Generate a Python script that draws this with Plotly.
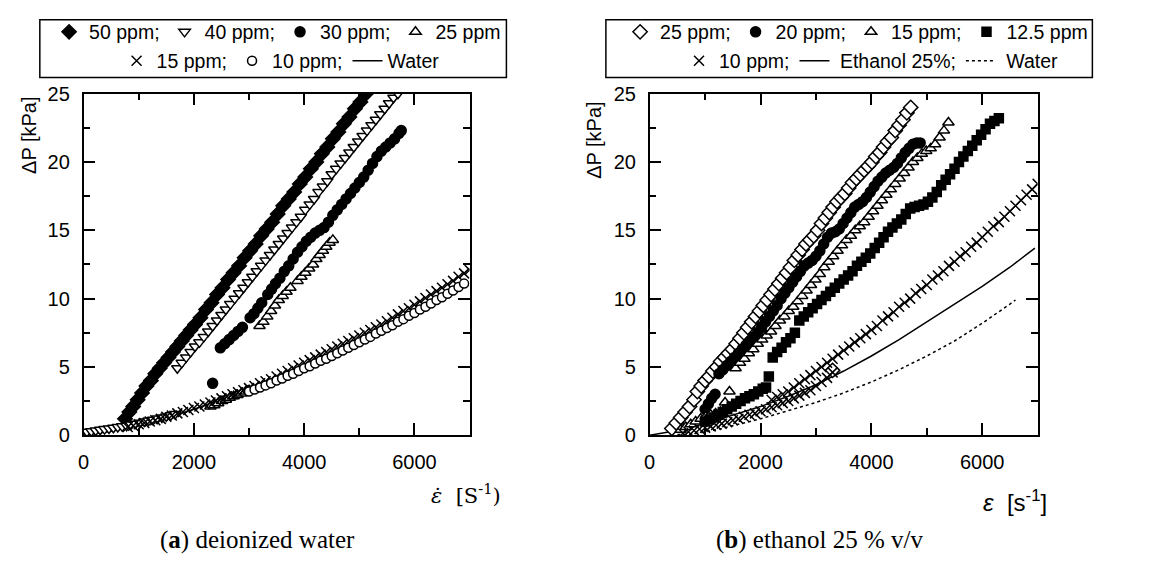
import plotly.graph_objects as go

# ---- data: (strain rate [1/s], dP [kPa]) ----
# (a) deionized water
dw_50ppm = [(750, 1.2), (830, 1.7), (900, 2.1), (980, 2.6), (1060, 3.1), (1140, 3.6), (1220, 4.0), (1300, 4.5),
            (1380, 4.9), (1460, 5.3), (1540, 5.7), (1620, 6.1), (1700, 6.5), (1780, 6.9), (1860, 7.3), (1940, 7.7),
            (2020, 8.1), (2120, 8.6), (2220, 9.2), (2320, 9.7), (2420, 10.3), (2520, 10.8), (2620, 11.4), (2720, 11.9),
            (2820, 12.4), (2920, 13.0), (3020, 13.5), (3120, 14.0), (3220, 14.6), (3320, 15.1), (3420, 15.6), (3520, 16.2),
            (3620, 16.8), (3720, 17.3), (3820, 17.8), (3920, 18.4), (4020, 18.9), (4120, 19.5), (4220, 20.0), (4320, 20.6),
            (4420, 21.1), (4520, 21.7), (4620, 22.2), (4720, 22.8), (4820, 23.3), (4920, 23.9), (5020, 24.4), (5120, 25.0)]
dw_40ppm = [(60, 0.25), (140, 0.3), (220, 0.35), (300, 0.4), (380, 0.45), (460, 0.5), (540, 0.55), (620, 0.6),
            (700, 0.65), (780, 0.7), (860, 0.78), (940, 0.85), (1020, 0.92), (1100, 1.0), (1180, 1.07), (1260, 1.14),
            (1340, 1.22), (1420, 1.3), (1500, 1.38), (1580, 1.46), (1660, 1.55),
            (1700, 4.9), (1780, 5.3), (1860, 5.7), (1940, 6.1), (2020, 6.5), (2100, 6.8), (2180, 7.2), (2260, 7.6),
            (2340, 8.0), (2420, 8.4), (2500, 8.8), (2580, 9.2), (2660, 9.6), (2740, 10.0), (2820, 10.4), (2900, 10.8),
            (2980, 11.2), (3060, 11.6), (3140, 12.0), (3220, 12.4), (3300, 12.8), (3380, 13.2), (3460, 13.6), (3540, 14.0),
            (3620, 14.4), (3700, 14.8), (3780, 15.2), (3860, 15.6), (3940, 16.0), (4020, 16.5), (4100, 16.9), (4180, 17.3),
            (4260, 17.8), (4340, 18.2), (4420, 18.6), (4500, 19.1), (4580, 19.5), (4660, 19.9), (4740, 20.3), (4820, 20.7),
            (4900, 21.1), (4980, 21.5), (5060, 21.9), (5140, 22.3), (5220, 22.7), (5300, 23.1), (5380, 23.5), (5460, 23.9),
            (5540, 24.3), (5620, 24.7), (5700, 25.0)]
dw_30ppm = [(2340, 3.8), (2480, 6.4), (2560, 6.7), (2640, 7.0), (2720, 7.3), (2800, 7.6), (2880, 7.9), (3020, 8.6),
            (3090, 8.9), (3160, 9.3), (3230, 9.7), (3340, 10.3), (3410, 10.7), (3480, 11.1), (3560, 11.5), (3640, 12.0),
            (3720, 12.4), (3800, 12.9), (3880, 13.4), (3960, 13.8), (4040, 14.2), (4120, 14.5), (4200, 14.8), (4280, 15.0),
            (4360, 15.2), (4440, 15.6), (4520, 16.1), (4600, 16.5), (4680, 16.9), (4760, 17.3), (4840, 17.7), (4920, 18.1),
            (5000, 18.5), (5080, 18.9), (5160, 19.4), (5240, 19.9), (5320, 20.4), (5400, 20.8), (5480, 21.1), (5560, 21.4),
            (5640, 21.7), (5720, 22.1), (5760, 22.3)]
dw_25ppm = [(2300, 2.1), (2370, 2.2), (2440, 2.35), (2510, 2.5), (2580, 2.6), (2650, 2.75), (2720, 2.85), (2790, 2.95),
            (2860, 3.05), (2940, 3.2), (3000, 3.3),
            (3190, 8.0), (3260, 8.3), (3330, 8.7), (3400, 9.1), (3470, 9.5), (3540, 9.9), (3610, 10.2), (3680, 10.5),
            (3750, 10.8), (3880, 11.3), (3950, 11.6), (4020, 11.9), (4090, 12.2), (4160, 12.5), (4220, 12.9), (4280, 13.2),
            (4340, 13.5), (4400, 13.8), (4460, 14.1), (4520, 14.3)]
dw_15ppm = [(800, 0.6), (900, 0.7), (1000, 0.8), (1100, 0.9), (1200, 1.0), (1300, 1.1), (1400, 1.2), (1500, 1.35),
            (1600, 1.45), (1700, 1.6), (1800, 1.7), (1900, 1.85), (2000, 2.0), (2100, 2.1), (2200, 2.25), (2300, 2.4),
            (2400, 2.55), (2500, 2.7), (2600, 2.85), (2700, 3.0), (2800, 3.15), (2900, 3.3), (3000, 3.45), (3100, 3.6),
            (3200, 3.8), (3300, 3.95), (3400, 4.1), (3500, 4.3), (3600, 4.5), (3700, 4.7), (3800, 4.9), (3900, 5.1),
            (4000, 5.3), (4100, 5.5), (4200, 5.7), (4300, 5.9), (4400, 6.1), (4500, 6.3), (4600, 6.5), (4700, 6.7),
            (4800, 6.9), (4900, 7.1), (5000, 7.3), (5100, 7.5), (5200, 7.7), (5300, 7.9), (5400, 8.1), (5500, 8.35),
            (5600, 8.6), (5700, 8.85), (5800, 9.1), (5900, 9.3), (6000, 9.55), (6100, 9.8), (6200, 10.05), (6300, 10.3),
            (6400, 10.55), (6500, 10.8), (6600, 11.05), (6700, 11.3), (6800, 11.6), (6900, 11.85), (7000, 12.1)]
dw_10ppm = [(3000, 3.2), (3100, 3.35), (3200, 3.5), (3300, 3.65), (3400, 3.8), (3500, 4.0), (3600, 4.15), (3700, 4.35),
            (3800, 4.5), (3900, 4.7), (4000, 4.9), (4100, 5.05), (4200, 5.25), (4300, 5.45), (4400, 5.6), (4500, 5.8),
            (4600, 6.0), (4700, 6.2), (4800, 6.4), (4900, 6.6), (5000, 6.8), (5100, 7.0), (5200, 7.2), (5300, 7.45),
            (5400, 7.65), (5500, 7.85), (5600, 8.05), (5700, 8.3), (5800, 8.5), (5900, 8.75), (6000, 8.95), (6100, 9.2),
            (6200, 9.4), (6300, 9.65), (6400, 9.9), (6500, 10.1), (6600, 10.35), (6700, 10.6), (6800, 10.85), (6900, 11.1)]
dw_water = [(0, 0.0), (500, 0.3), (1000, 0.75), (1500, 1.25), (2000, 1.9), (2500, 2.6), (3000, 3.2), (3500, 3.95),
            (4000, 4.85), (4500, 5.75), (5000, 6.75), (5500, 7.8), (6000, 8.9), (6500, 10.05), (6900, 11.0)]

# (b) ethanol 25 % v/v
et_25ppm = [(400, 0.5), (480, 0.9), (560, 1.3), (640, 1.7), (720, 2.1), (800, 2.6), (860, 3.2), (930, 3.6),
            (1000, 4.0), (1070, 4.3), (1140, 4.7), (1210, 5.0), (1280, 5.4), (1350, 5.7), (1420, 6.0), (1490, 6.3),
            (1560, 6.7), (1630, 7.1), (1700, 7.5), (1770, 7.9), (1840, 8.3), (1910, 8.7), (1980, 9.1), (2050, 9.5),
            (2120, 9.9), (2190, 10.3), (2260, 10.7), (2330, 11.1), (2400, 11.5), (2470, 11.9), (2540, 12.3), (2610, 12.8),
            (2680, 13.2), (2750, 13.6), (2820, 14.0), (2890, 14.3), (2960, 14.6), (3030, 15.0), (3100, 15.5), (3170, 15.9),
            (3240, 16.3), (3310, 16.7), (3380, 17.1), (3450, 17.4), (3520, 17.7), (3590, 18.1), (3660, 18.5), (3730, 18.8),
            (3800, 19.1), (3870, 19.4), (3940, 19.7), (4010, 20.0), (4080, 20.4), (4150, 20.7), (4220, 21.1), (4290, 21.5),
            (4360, 21.8), (4430, 22.3), (4500, 22.7), (4570, 23.1), (4640, 23.6), (4710, 24.0), (3300, 4.75)]
et_20ppm = [(1000, 1.9), (1060, 2.3), (1120, 2.7), (1180, 3.0),
            (1250, 4.5), (1320, 4.8), (1390, 5.1), (1460, 5.4), (1530, 5.7), (1600, 6.0), (1670, 6.3), (1740, 6.6),
            (1810, 6.9), (1880, 7.2), (1950, 7.5), (2020, 7.9), (2090, 8.3), (2160, 8.7), (2230, 9.1), (2300, 9.5),
            (2370, 10.0), (2440, 10.4), (2510, 10.8), (2580, 11.2), (2650, 11.6), (2720, 12.0), (2790, 12.4), (2860, 12.6),
            (2930, 12.8), (3000, 13.1), (3070, 13.5), (3140, 14.0), (3210, 14.5), (3280, 14.8), (3350, 14.9), (3420, 15.1),
            (3490, 15.5), (3560, 15.9), (3630, 16.3), (3700, 16.7), (3770, 16.9), (3840, 17.1), (3910, 17.4), (3980, 17.8),
            (4050, 18.2), (4120, 18.6), (4190, 18.9), (4260, 19.2), (4330, 19.4), (4400, 19.6), (4470, 19.9), (4540, 20.3),
            (4610, 20.7), (4680, 21.0), (4750, 21.3), (4820, 21.4), (4880, 21.4)]
et_15ppm = [(560, 0.4), (650, 0.6), (740, 0.8), (830, 1.0), (920, 1.2), (1010, 1.35), (1100, 1.5), (1190, 1.6),
            (1280, 1.7), (1360, 2.4), (1440, 3.2),
            (1550, 4.9), (1630, 5.3), (1710, 5.6), (1790, 6.0), (1870, 6.3), (1950, 6.7), (2030, 7.0), (2110, 7.3),
            (2190, 7.6), (2270, 8.0), (2350, 8.4), (2430, 8.7), (2510, 9.1), (2590, 9.4), (2670, 9.8), (2750, 10.2),
            (2830, 10.6), (2910, 11.0), (2990, 11.4), (3070, 11.8), (3150, 12.3), (3230, 12.7), (3310, 13.1), (3390, 13.5),
            (3470, 13.9), (3550, 14.3), (3630, 14.6), (3710, 15.0), (3790, 15.3), (3870, 15.6), (3950, 16.0), (4030, 16.4),
            (4110, 16.8), (4190, 17.2), (4270, 17.6), (4350, 18.0), (4430, 18.4), (4510, 18.8), (4590, 19.2), (4670, 19.6),
            (4750, 20.0), (4830, 20.3), (4910, 20.6), (4990, 20.8), (5070, 21.0), (5150, 21.3), (5230, 21.8), (5310, 22.3),
            (5390, 22.9)]
et_12_5ppm = [(1000, 1.0), (1080, 1.15), (1160, 1.3), (1240, 1.5), (1320, 1.7), (1400, 1.9), (1480, 2.1), (1560, 2.3),
              (1640, 2.5), (1720, 2.7), (1800, 2.85), (1880, 3.0), (1960, 3.2), (2040, 3.4), (2100, 3.5), (2150, 4.3),
              (2220, 5.7), (2300, 6.1), (2380, 6.4), (2460, 6.8), (2540, 7.1), (2620, 7.5), (2700, 8.4), (2780, 8.7),
              (2860, 9.0), (2940, 9.3), (3020, 9.6), (3100, 9.9), (3180, 10.2), (3260, 10.5), (3340, 10.8), (3420, 11.1),
              (3500, 11.4), (3580, 11.7), (3660, 12.0), (3740, 12.4), (3820, 12.7), (3900, 13.0), (3980, 13.3), (4060, 13.7),
              (4140, 14.1), (4220, 14.5), (4300, 14.9), (4380, 15.2), (4460, 15.5), (4540, 15.8), (4620, 16.2), (4700, 16.6),
              (4780, 16.7), (4860, 16.8), (4940, 16.9), (5020, 17.1), (5100, 17.4), (5180, 17.8), (5260, 18.3), (5340, 18.7),
              (5420, 19.1), (5500, 19.5), (5580, 20.0), (5660, 20.4), (5740, 20.8), (5820, 21.2), (5900, 21.6), (5980, 22.0),
              (6060, 22.4), (6140, 22.8), (6220, 23.0), (6300, 23.2)]
et_10ppm = [(600, 0.15), (700, 0.25), (800, 0.35), (900, 0.45), (1000, 0.55), (1100, 0.65), (1200, 0.75), (1300, 0.85),
            (1400, 0.95), (1500, 1.1), (1600, 1.2), (1700, 1.35), (1800, 1.5), (1900, 1.6), (2000, 1.75), (2100, 1.9),
            (2200, 2.05), (2300, 2.2), (2400, 2.35), (2500, 2.5), (2600, 2.7), (2700, 2.9), (2800, 3.1), (2900, 3.3),
            (3000, 3.6), (3100, 3.9), (3200, 4.2), (3300, 4.6),
            (2200, 2.6), (2300, 2.8), (2400, 3.0), (2500, 3.2), (2600, 3.5), (2700, 3.8), (2800, 4.1), (2900, 4.4),
            (3000, 4.7), (3100, 5.0), (3200, 5.3), (3300, 5.6), (3400, 5.9), (3500, 6.2), (3600, 6.5), (3700, 6.8),
            (3800, 7.1), (3900, 7.4), (4000, 7.7), (4100, 8.0), (4200, 8.4), (4300, 8.7), (4400, 9.0), (4500, 9.4),
            (4600, 9.7), (4700, 10.0), (4800, 10.4), (4900, 10.7), (5000, 11.0), (5100, 11.4), (5200, 11.7), (5300, 12.0),
            (5400, 12.4), (5500, 12.7), (5600, 13.1), (5700, 13.4), (5800, 13.8), (5900, 14.1), (6000, 14.5), (6100, 14.9),
            (6200, 15.3), (6300, 15.6), (6400, 16.0), (6500, 16.4), (6600, 16.8), (6700, 17.2), (6800, 17.6), (6900, 18.0),
            (7000, 18.4)]
et_ethanol = [(0, 0.0), (500, 0.35), (1000, 0.85), (1500, 1.45), (2000, 2.1), (2500, 2.85), (3000, 3.7), (3500, 4.7),
              (4000, 5.8), (4500, 7.0), (5000, 8.3), (5500, 9.6), (6000, 10.9), (6500, 12.3), (6950, 13.7)]
et_water = [(500, 0.05), (800, 0.1), (1200, 0.4), (1600, 0.8), (2000, 1.2), (2500, 1.8), (3000, 2.4), (3500, 3.1),
            (4000, 3.9), (4500, 4.8), (5000, 5.8), (5500, 6.9), (6000, 8.2), (6500, 9.6), (6600, 9.9)]

x_ticks = [0, 2000, 4000, 6000]
y_ticks = [0, 5, 10, 15, 20, 25]

SANS = 'Liberation Sans, Arial, sans-serif'
SERIF = 'Liberation Serif, Times New Roman, serif'
NBSP = '\u00a0'
W, H = 1165, 579


def xs(pts):
    return [p[0] for p in pts]


def ys(pts):
    return [p[1] for p in pts]


def px(v):  # pixel -> paper x
    return v / W


def py(v):  # pixel from top -> paper y
    return 1 - v / H


def marker(symbol, fill, size=10):
    return dict(symbol=symbol, size=size, color=fill, line=dict(color='black', width=1.5))


fig = go.Figure()

# (name, data, marker, legend) for each panel
left_series = [
    ('50 ppm;', dw_50ppm, marker('diamond', 'black', 11), 'legend'),
    ('40 ppm;', dw_40ppm, marker('triangle-down', 'white'), 'legend'),
    ('30 ppm;', dw_30ppm, marker('circle', 'black'), 'legend'),
    ('25 ppm', dw_25ppm, marker('triangle-up', 'white'), 'legend'),
    ('15 ppm;', dw_15ppm, marker('x-thin-open', 'black'), 'legend2'),
    ('10 ppm;', dw_10ppm, marker('circle', 'white', 9), 'legend2'),
]
fig.add_trace(go.Scatter(x=xs(dw_water), y=ys(dw_water), mode='lines', name='Water',
                         line=dict(color='black', width=1.5), legend='legend2', legendrank=1100))
for name, pts, mk, lg in left_series:
    fig.add_trace(go.Scatter(x=xs(pts), y=ys(pts), mode='markers', name=name, marker=mk, legend=lg))

right_series = [
    ('25 ppm;', et_25ppm, marker('diamond', 'white', 11), 'legend3'),
    ('20 ppm;', et_20ppm, marker('circle', 'black'), 'legend3'),
    ('15 ppm;', et_15ppm, marker('triangle-up', 'white'), 'legend3'),
    ('12.5 ppm', et_12_5ppm, marker('square', 'black', 9), 'legend3'),
    ('10 ppm;', et_10ppm, marker('x-thin-open', 'black'), 'legend4'),
]
fig.add_trace(go.Scatter(x=xs(et_ethanol), y=ys(et_ethanol), mode='lines', name=NBSP + 'Ethanol 25%;',
                         line=dict(color='black', width=1.5), legend='legend4', legendrank=1100,
                         xaxis='x2', yaxis='y2'))
fig.add_trace(go.Scatter(x=xs(et_water), y=ys(et_water), mode='lines', name=NBSP + 'Water',
                         line=dict(color='black', width=1.5, dash='3px,3px'), legend='legend4', legendrank=1101,
                         xaxis='x2', yaxis='y2'))
for name, pts, mk, lg in right_series:
    fig.add_trace(go.Scatter(x=xs(pts), y=ys(pts), mode='markers', name=name, marker=mk, legend=lg,
                             xaxis='x2', yaxis='y2'))

axis_common = dict(showline=True, linecolor='black', linewidth=1.5, mirror='allticks',
                   ticks='inside', ticklen=12, tickwidth=1.5, tickcolor='black',
                   showgrid=False, zeroline=False, ticklabelstandoff=8,
                   tickfont=dict(family=SANS, size=20, color='black'))
xaxis_common = dict(axis_common, range=[0, 7000], tickvals=x_ticks,
                    minor=dict(ticks='inside', ticklen=7, tickwidth=1.5, tickcolor='black', dtick=1000, showgrid=False))
yaxis_common = dict(axis_common, range=[0, 25], tickvals=y_ticks,
                    minor=dict(ticks='inside', ticklen=7, tickwidth=1.5, tickcolor='black', dtick=2.5, showgrid=False))

ydom = [py(441), py(86)]
fig.update_layout(
    xaxis=dict(xaxis_common, domain=[px(78), px(466)], anchor='y'),
    yaxis=dict(yaxis_common, domain=ydom, anchor='x'),
    xaxis2=dict(xaxis_common, domain=[px(647), px(1037)], anchor='y2'),
    yaxis2=dict(yaxis_common, domain=ydom, anchor='x2'),
)

# four legend rows, two per panel
legend_common = dict(orientation='h', xanchor='center', yanchor='middle', bgcolor='rgba(0,0,0,0)',
                     borderwidth=0, font=dict(family=SANS, size=19.5, color='black'), traceorder='normal')
fig.update_layout(
    legend=dict(legend_common, x=px(273), y=py(22)),
    legend2=dict(legend_common, x=px(276), y=py(52)),
    legend3=dict(legend_common, x=px(855), y=py(22)),
    legend4=dict(legend_common, x=px(870), y=py(52)),
)

# legend boxes
for x0, x1 in [(34, 503), (603, 1092)]:
    fig.add_shape(type='rect', xref='paper', yref='paper', x0=px(x0), x1=px(x1), y0=py(69), y1=py(9),
                  line=dict(color='black', width=1.5))

# axis titles and captions
ann = [
    dict(text='ΔP [kPa]', x=px(23), y=py(129), textangle=-90, font=dict(family=SANS, size=20)),
    dict(text='ΔP [kPa]', x=px(591), y=py(134), textangle=-90, font=dict(family=SANS, size=20)),
    dict(text='<i>ε̇</i>  [S<sup>-1</sup>)', x=px(462), y=py(502), font=dict(family='DejaVu Serif', size=21)),
    dict(text='<i>ε</i>  [s<sup>-1</sup>]', x=px(1014), y=py(509), font=dict(family=SANS, size=24)),
    dict(text='(<b>a</b>) deionized water', x=px(253), y=py(550), font=dict(family=SERIF, size=25)),
    dict(text='(<b>b</b>) ethanol 25 % v/v', x=px(818), y=py(550), font=dict(family=SERIF, size=25)),
]
for a in ann:
    a['font']['color'] = 'black'
    fig.add_annotation(xref='paper', yref='paper', showarrow=False, xanchor='center', yanchor='middle', **a)

fig.update_layout(width=W, height=H, margin=dict(l=0, r=0, t=0, b=0),
                  paper_bgcolor='white', plot_bgcolor='white', showlegend=True)

# drop the default page margin so figure pixels are page pixels
fig.write_html("out.html", config={'displayModeBar': False},
               post_script="document.body.style.margin='0px';")
